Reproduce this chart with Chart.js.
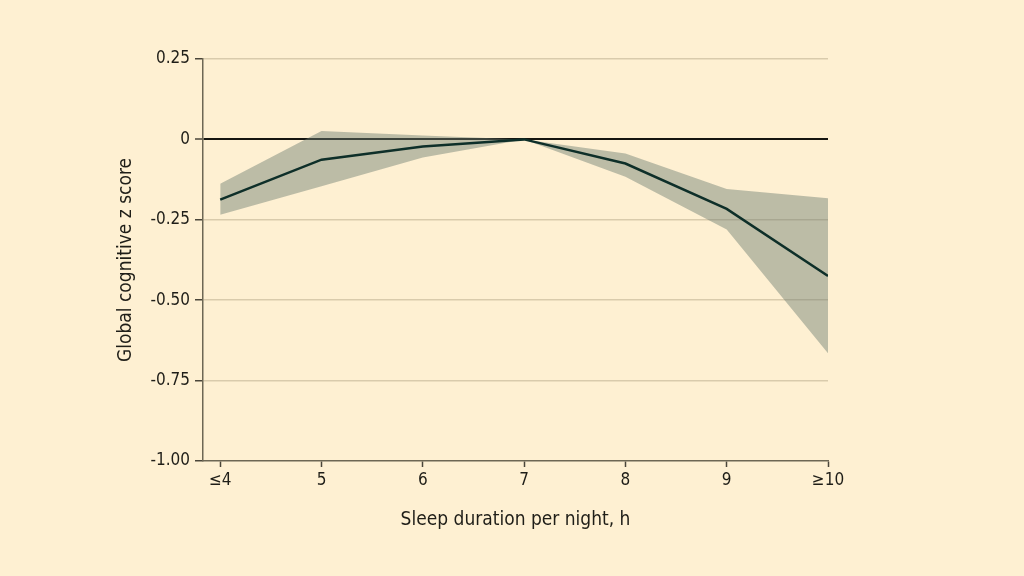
<!DOCTYPE html>
<html>
<head>
<meta charset="utf-8">
<script src="https://cdn.jsdelivr.net/npm/chart.js@4"></script>
<style>
    html, body { margin: 0; padding: 0; background: #fef0d2; }
    #wrap { width: 1024px; height: 576px; }
</style>
</head>
<body>
<div id="wrap"><canvas id="sleepChart" width="1024" height="576"></canvas></div>
<script>
// sleep duration (h) and the labels shown under the axis
const hours = [4, 5, 6, 7, 8, 9, 10];
const hourLabels = ['≤4', '5', '6', '7', '8', '9', '≥10'];

// global cognitive z score, with the upper and lower 95% CI
const zScore = [-0.187, -0.063, -0.022, 0, -0.075, -0.216, -0.425];
const upperCI = [-0.138, 0.026, 0.012, 0, -0.044, -0.154, -0.183];
const lowerCI = [-0.234, -0.146, -0.056, 0, -0.116, -0.280, -0.665];

const yTicks = [0.25, 0, -0.25, -0.5, -0.75, -1];

const fontFamily = "'Liberation Sans Narrow', 'DejaVu Sans Condensed', sans-serif";
const textColor = '#1f1e18';

function toPoints(values) {
    return hours.map((h, i) => ({ x: h, y: values[i] }));
}

let ctx = document.getElementById('sleepChart').getContext('2d');
let sleepChart = new Chart(ctx, {
    type: 'line',
    data: {
        datasets: [
            {
                label: 'Upper CI',
                data: toPoints(upperCI),
                borderWidth: 0,
                pointRadius: 0,
                backgroundColor: 'rgba(108, 124, 112, 0.45)',
                fill: '+1',
                order: 2
            },
            {
                label: 'Lower CI',
                data: toPoints(lowerCI),
                borderWidth: 0,
                pointRadius: 0,
                fill: false,
                order: 2
            },
            {
                label: 'Global cognitive z score',
                data: toPoints(zScore),
                borderColor: '#0e2f29',
                borderWidth: 2.5,
                pointRadius: 0,
                fill: false,
                order: 1
            }
        ]
    },
    options: {
        responsive: false,
        animation: false,
        layout: {
            padding: { left: 110, right: 196, top: 59, bottom: 0 }
        },
        plugins: {
            legend: { display: false },
            tooltip: { enabled: false }
        },
        scales: {
            x: {
                type: 'linear',
                min: 3.83,
                max: 10,
                afterBuildTicks: function(axis) {
                    axis.ticks = hours.map(h => ({ value: h }));
                },
                afterFit: function(axis) {
                    axis.height = 115;
                },
                ticks: {
                    color: textColor,
                    font: { family: fontFamily, size: 17 },
                    padding: 3,
                    maxRotation: 0,
                    autoSkip: false,
                    callback: function(value) {
                        let i = hours.indexOf(value);
                        return i >= 0 ? hourLabels[i] : '';
                    }
                },
                grid: {
                    drawOnChartArea: false,
                    tickLength: 6,
                    tickColor: '#4a463a',
                    tickWidth: 1.5
                },
                border: { color: '#6d6754', width: 1.5 },
                title: {
                    display: true,
                    text: 'Sleep duration per night, h',
                    color: textColor,
                    font: { family: fontFamily, size: 19 },
                    padding: { top: 45, bottom: 45 }
                }
            },
            y: {
                min: -1,
                max: 0.25,
                afterBuildTicks: function(axis) {
                    axis.ticks = yTicks.map(v => ({ value: v }));
                },
                afterFit: function(axis) {
                    axis.width = 93;
                },
                ticks: {
                    color: textColor,
                    font: { family: fontFamily, size: 17 },
                    padding: 5,
                    callback: function(value) {
                        return value === 0 ? '0' : value.toFixed(2);
                    }
                },
                grid: {
                    color: function(c) {
                        if (c.tick && c.tick.value === 0) return '#151510';
                        if (c.tick && c.tick.value === -1) return 'rgba(0,0,0,0)';
                        return '#d9cbac';
                    },
                    lineWidth: function(c) {
                        return c.tick && c.tick.value === 0 ? 2 : 1.5;
                    },
                    tickLength: 8,
                    tickColor: '#4a463a',
                    tickWidth: 1.5
                },
                border: { color: '#6d6754', width: 1.5 },
                title: {
                    display: true,
                    text: 'Global cognitive z score',
                    color: textColor,
                    font: { family: fontFamily, size: 19 },
                    padding: { top: 5, bottom: 5 }
                }
            }
        }
    }
});
</script>
</body>
</html>
